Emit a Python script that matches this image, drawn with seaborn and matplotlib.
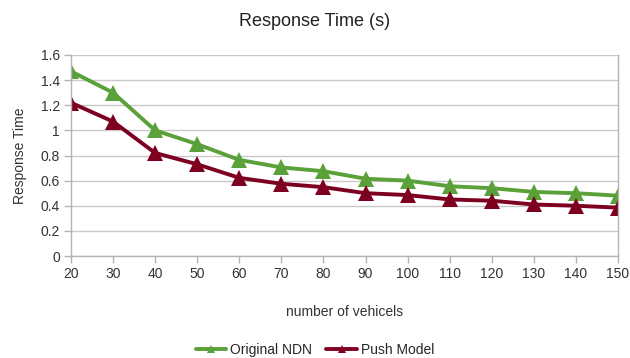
import matplotlib
matplotlib.use("Agg")
import matplotlib.pyplot as plt
import seaborn as sns
import pandas as pd

vehicles = [20, 30, 40, 50, 60, 70, 80, 90, 100, 110, 120, 130, 140, 150]
original_ndn = [1.47, 1.30, 1.00, 0.89, 0.765, 0.705, 0.675, 0.615, 0.60, 0.555, 0.54, 0.51, 0.50, 0.48]
push_model = [1.22, 1.07, 0.82, 0.73, 0.622, 0.575, 0.548, 0.50, 0.485, 0.45, 0.44, 0.41, 0.40, 0.385]
series_names = ["Original NDN", "Push Model"]
colors = ["#5aa13a", "#7e0021"]

df = pd.DataFrame({
    "x": vehicles * 2,
    "y": original_ndn + push_model,
    "series": [series_names[0]] * len(vehicles) + [series_names[1]] * len(vehicles),
})

sns.set_style("white")
plt.rcParams["font.family"] = ["Liberation Sans", "DejaVu Sans"]

fig = plt.figure(figsize=(6.3, 3.58), dpi=100)
ax = fig.add_axes([71 / 630, 1 - 256 / 358, (618 - 71) / 630, (256 - 55) / 358])

sns.lineplot(data=df, x="x", y="y", hue="series", style="series",
             markers={series_names[0]: "^", series_names[1]: "^"},
             dashes=False, palette=dict(zip(series_names, colors)),
             linewidth=2.8, markersize=11, markeredgewidth=0, ax=ax)

ax.set_xlim(20, 150)
ax.set_ylim(0, 1.6)
ax.set_xticks(vehicles)
ax.set_yticks([0, 0.2, 0.4, 0.6, 0.8, 1.0, 1.2, 1.4, 1.6])
ax.set_yticklabels(["0", "0.2", "0.4", "0.6", "0.8", "1", "1.2", "1.4", "1.6"])
ax.grid(axis="y", color="#c8c8c8", linewidth=1)
ax.set_axisbelow(True)
for s in ["left", "right", "bottom"]:
    ax.spines[s].set_color("#b3b3b3")
    ax.spines[s].set_linewidth(1)
ax.spines["top"].set_visible(False)
ax.tick_params(axis="both", length=5, color="#b3b3b3", width=1, labelsize=10, labelcolor="#333333", pad=3)
ax.tick_params(axis="y", left=True)
ax.tick_params(axis="x", bottom=True)

ax.set_xlabel("number of vehicels", fontsize=10, color="#333333", labelpad=17)
ax.set_ylabel("Response Time", fontsize=10, color="#333333", labelpad=10)
fig.text(0.5, 1 - 22 / 358, "Response Time (s)", ha="center", va="center", fontsize=13, color="#222222")

handles, labels = ax.get_legend_handles_labels()
leg = ax.legend(handles, labels, loc="center", frameon=False,
                ncol=2, fontsize=10, handlelength=2.2, handletextpad=0.3, columnspacing=1.0,
                bbox_to_anchor=(315 / 630, 1 - 350 / 358), bbox_transform=fig.transFigure)
for line in leg.get_lines():
    line.set_markersize(6)

fig.savefig("out.png", dpi=100)
